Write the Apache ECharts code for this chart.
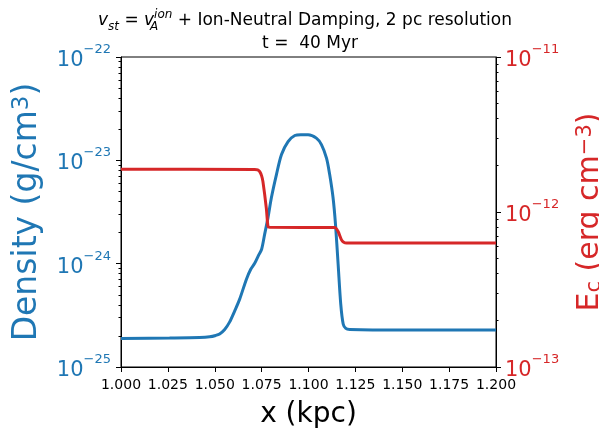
<!DOCTYPE html>
<html><head><meta charset="utf-8">
<script src="https://cdn.jsdelivr.net/npm/echarts@6/dist/echarts.min.js"></script>
<style>html,body{margin:0;padding:0;background:#fff}#c{width:599px;height:432px}</style>
</head><body><div id="c"></div>
<script>
// Density (g/cm^3) vs x (kpc)
const densityX = [1.0000, 1.0259, 1.0419, 1.0473, 1.0505, 1.0526, 1.0553, 1.0579, 1.0606, 1.0633,
  1.0669, 1.0692, 1.0713, 1.0734, 1.0750, 1.0766, 1.0784, 1.0802, 1.0829, 1.0856,
  1.0891, 1.0927, 1.0959, 1.0998, 1.1042, 1.1069, 1.1096, 1.1113, 1.1131, 1.1144,
  1.1158, 1.1172, 1.1185, 1.1199, 1.1220, 1.1487, 1.2000];
const densityY = [1.89e-25, 1.91e-25, 1.93e-25, 1.96e-25, 2.02e-25, 2.09e-25, 2.31e-25, 2.72e-25, 3.48e-25, 4.54e-25,
  7.08e-25, 8.83e-25, 1.01e-24, 1.21e-24, 1.38e-24, 1.92e-24, 2.79e-24, 4.34e-24, 7.28e-24, 1.14e-23,
  1.52e-23, 1.74e-23, 1.77e-23, 1.77e-23, 1.64e-23, 1.42e-23, 1.05e-23, 7.28e-24, 4.34e-24, 2.40e-24,
  9.87e-25, 4.06e-25, 2.61e-25, 2.36e-25, 2.31e-25, 2.28e-25, 2.28e-25];
// E_c (erg cm^-3) vs x (kpc)
const ecX = [1.0000, 1.0713, 1.0729, 1.0740, 1.0750, 1.0757, 1.0775, 1.0784, 1.0793, 1.1140,
  1.1158, 1.1176, 1.1188, 1.1203, 1.2000];
const ecY = [1.89e-12, 1.88e-12, 1.87e-12, 1.82e-12, 1.71e-12, 1.57e-12, 1.06e-12, 8.05e-13, 7.96e-13, 7.94e-13,
  7.48e-13, 6.61e-13, 6.37e-13, 6.30e-13, 6.30e-13];

const xMin = 1.0, xMax = 1.2, xStep = 0.025;
// density axis decades (log10 exponents), E_c axis decades
const densityDecades = [-25, -24, -23, -22];
const ecTicks = [1e-13, 1e-12, 1e-11];
const titleLine1 = '{v|v}{sub|st}{r| = }{v|v}{zs|A}{sup|ion}{r| + Ion-Neutral Damping, 2 pc resolution}';
const titleLine2 = 't =  40 Myr';

const BLUE = '#1f77b4', RED = '#d62728';
const FONT = 'DejaVu Sans';

function expText(e) {
  return '{b|10}{e|' + (e < 0 ? '\u2212' + (-e) : e) + '}';
}
function richFor(color) {
  return {
    b: { fontFamily: FONT, fontSize: 21, color: color, lineHeight: 28, verticalAlign: 'bottom' },
    e: { fontFamily: FONT, fontSize: 13, color: color, lineHeight: 18, verticalAlign: 'top' }
  };
}
// minor tick positions of a log axis (2..9 x 10^n)
const densityMinor = [];
for (let i = 0; i < densityDecades.length - 1; i++) {
  for (let k = 2; k <= 9; k++) densityMinor.push(densityDecades[i] + Math.log10(k));
}
const ecMinor = [];
for (let i = 0; i < ecTicks.length - 1; i++) {
  for (let k = 2; k <= 9; k++) ecMinor.push(+(k * ecTicks[i]).toPrecision(3));
}

const chart = echarts.init(document.getElementById('c'), null, { renderer: 'canvas' });
const titleRich = {
  r: { fontFamily: FONT, fontSize: 17, color: '#000', lineHeight: 24 },
  v: { fontFamily: FONT, fontSize: 17, fontStyle: 'italic', color: '#000', lineHeight: 24 },
  sub: { fontFamily: FONT, fontSize: 12, fontStyle: 'italic', color: '#000', lineHeight: 14, verticalAlign: 'bottom' },
  zs: { fontFamily: FONT, fontSize: 12, fontStyle: 'italic', color: '#000', lineHeight: 14, verticalAlign: 'bottom', width: 0 },
  sup: { fontFamily: FONT, fontSize: 12, fontStyle: 'italic', color: '#000', lineHeight: 14, verticalAlign: 'top' }
};

chart.setOption({
  animation: false,
  backgroundColor: '#fff',
  title: [
    { text: titleLine1, left: 305, top: 9, textAlign: 'center', padding: 0,
      textStyle: { rich: titleRich, fontFamily: FONT, fontSize: 17, fontWeight: 'normal', color: '#000' } },
    { text: titleLine2, left: 310, top: 34, textAlign: 'center', padding: 0,
      textStyle: { fontFamily: FONT, fontSize: 17, fontWeight: 'normal', color: '#000', lineHeight: 20 } }
  ],
  grid: { left: 121, right: 103, top: 57, height: 310, outerBoundsMode: 'none',
    show: true, borderColor: '#000', borderWidth: 1, backgroundColor: 'transparent' },
  xAxis: {
    type: 'value', min: xMin, max: xMax, interval: xStep,
    axisLine: { lineStyle: { color: '#000', width: 1 } },
    axisTick: { length: 5, lineStyle: { color: '#000' } },
    splitLine: { show: false },
    axisLabel: { color: '#000', fontFamily: FONT, fontSize: 14, margin: 11, formatter: v => v.toFixed(3) },
    name: 'x (kpc)', nameLocation: 'middle', nameGap: 34,
    nameTextStyle: { color: '#000', fontFamily: FONT, fontSize: 28 }
  },
  yAxis: [
    {
      // density: log10 space on a value axis
      type: 'value', position: 'left', min: densityDecades[0], max: densityDecades[densityDecades.length - 1], interval: 1,
      splitLine: { show: false },
      axisLine: { show: true, lineStyle: { color: '#000' } },
      axisTick: { show: true, length: 5, customValues: densityDecades, lineStyle: { color: '#000' } },
      axisLabel: { customValues: densityDecades, margin: 10, formatter: v => expText(Math.round(v)), rich: richFor(BLUE) },
      name: 'Density (g/cm{s|3})', nameLocation: 'middle', nameGap: 77, nameRotate: 90,
      nameTextStyle: { color: BLUE, fontFamily: FONT, fontSize: 33,
        rich: { s: { color: BLUE, fontFamily: FONT, fontSize: 23, verticalAlign: 'top', lineHeight: 29 } } }
    },
    {
      type: 'value', position: 'left', min: densityDecades[0], max: densityDecades[densityDecades.length - 1], interval: 1,
      splitLine: { show: false },
      axisLine: { show: false },
      axisTick: { show: true, length: 2.5, customValues: densityMinor, lineStyle: { color: '#000' } },
      axisLabel: { show: false }
    },
    {
      type: 'log', logBase: 10, position: 'right', min: ecTicks[0], max: ecTicks[ecTicks.length - 1],
      splitLine: { show: false }, minorTick: { show: false },
      axisLine: { show: true, lineStyle: { color: '#000' } },
      axisTick: { show: true, length: 5, customValues: ecTicks, lineStyle: { color: '#000' } },
      axisLabel: { customValues: ecTicks, margin: 9, formatter: v => expText(Math.round(Math.log10(v))), rich: richFor(RED) },
      name: 'E{s|c} (erg cm{p|\u22123})', nameLocation: 'middle', nameGap: 79, nameRotate: 90,
      nameTextStyle: { color: RED, fontFamily: FONT, fontSize: 30,
        rich: {
          s: { color: RED, fontFamily: FONT, fontSize: 21, verticalAlign: 'bottom', lineHeight: 27 },
          p: { color: RED, fontFamily: FONT, fontSize: 21, verticalAlign: 'top', lineHeight: 27 }
        } }
    },
    {
      type: 'log', logBase: 10, position: 'right', min: ecTicks[0], max: ecTicks[ecTicks.length - 1],
      splitLine: { show: false }, minorTick: { show: false },
      axisLine: { show: false },
      axisTick: { show: true, length: 2.5, customValues: ecMinor, lineStyle: { color: '#000' } },
      axisLabel: { show: false }
    }
  ],
  series: [
    { type: 'line', name: 'Density', xAxisIndex: 0, yAxisIndex: 0, showSymbol: false, smooth: 0.3,
      lineStyle: { color: BLUE, width: 3 }, itemStyle: { color: BLUE },
      data: densityX.map((x, i) => [x, Math.log10(densityY[i])]) },
    { type: 'line', name: 'E_c', xAxisIndex: 0, yAxisIndex: 2, showSymbol: false, smooth: 0.2,
      lineStyle: { color: RED, width: 3 }, itemStyle: { color: RED },
      data: ecX.map((x, i) => [x, ecY[i]]) }
  ]
});
</script></body></html>
